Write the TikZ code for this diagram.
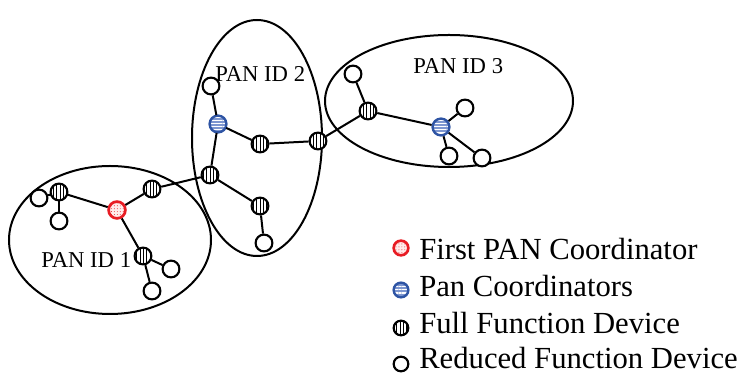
\documentclass[tikz,border=0pt]{standalone}
\usepackage{fontspec}
\setmainfont{Liberation Serif}
\usetikzlibrary{patterns.meta}
\definecolor{coordred}{RGB}{232,28,36}
\definecolor{coordblue}{RGB}{46,84,164}
\definecolor{lightblue}{RGB}{125,150,208}
\tikzset{
  dev/.style={circle, draw, line width=1.6pt, inner sep=0pt, minimum size=12.6pt},
  rfd/.style={dev, fill=white},
  ffd/.style={dev, preaction={fill=white},
    pattern={Lines[angle=90, distance=2.5pt, line width=0.75pt]}},
  pancoord/.style={dev, draw=coordblue, line width=1.8pt, preaction={fill=lightblue},
    pattern={Lines[angle=0, distance=2.4pt, line width=0.9pt]}, pattern color=white},
  firstcoord/.style={dev, draw=coordred, line width=2pt, preaction={fill=red!8},
    pattern={Dots[distance=2.2pt, radius=0.35pt]}, pattern color=coordred},
  small/.style={minimum size=11pt},
  link/.style={line width=1.5pt},
  region/.style={line width=1.5pt},
  panlabel/.style={anchor=base west, inner sep=0pt, font=\fontsize{17}{20}\selectfont},
  legendtext/.style={anchor=base west, inner sep=0pt, font=\fontsize{23}{26}\selectfont}
}
\begin{document}
\begin{tikzpicture}[x=0.75pt,y=-0.75pt]
\useasboundingbox (0,0) rectangle (744,373);

% network regions
\draw[region] (110,240) ellipse [x radius=101*0.75pt, y radius=74*0.75pt];
\draw[region] (257,138) ellipse [x radius=65*0.75pt, y radius=118*0.75pt];
\draw[region] (449,101) ellipse [x radius=124*0.75pt, y radius=66*0.75pt];

% region labels
\node[panlabel] (l1) at (41,268) {PAN ID 1};
\node[panlabel] (l2) at (215,82) {PAN ID 2};
\node[panlabel] (l3) at (413,74) {PAN ID 3};

% devices of PAN 1
\node[rfd] (a1) at (39,198) {};
\node[ffd] (a2) at (59,192) {};
\node[rfd] (a3) at (59,221) {};
\node[firstcoord] (c1) at (117,210) {};
\node[ffd] (a4) at (152,189) {};
\node[ffd] (a5) at (143,256) {};
\node[rfd] (a6) at (171,269) {};
\node[rfd] (a7) at (152,291) {};

% devices of PAN 2
\node[ffd] (b1) at (210,175) {};
\node[pancoord] (b2) at (218,124) {};
\node[rfd] (b3) at (211,86) {};
\node[ffd] (b4) at (260,144) {};
\node[ffd] (b5) at (318,141) {};
\node[ffd] (b6) at (260,206) {};
\node[rfd] (b7) at (264,243) {};

% devices of PAN 3
\node[ffd] (d2) at (368,111) {};
\node[rfd] (d3) at (353,74) {};
\node[pancoord] (d4) at (441,127) {};
\node[rfd] (d5) at (465,108) {};
\node[rfd] (d6) at (449,156) {};
\node[rfd] (d7) at (482,158) {};

% links
\draw[link] (a1) -- (a2);
\draw[link] (a2) -- (a3);
\draw[link] (a2) -- (c1);
\draw[link] (c1) -- (a4);
\draw[link] (a4) -- (b1);
\draw[link] (c1) -- (a5);
\draw[link] (a5) -- (a6);
\draw[link] (a5) -- (a7);
\draw[link] (b1) -- (b2);
\draw[link] (b2) -- (b3);
\draw[link] (b2) -- (b4);
\draw[link] (b4) -- (b5);
\draw[link] (b1) -- (b6);
\draw[link] (b6) -- (b7);
\draw[link] (b5) -- (d2);
\draw[link] (d2) -- (d3);
\draw[link] (d2) -- (d4);
\draw[link] (d4) -- (d5);
\draw[link] (d4) -- (d6);
\draw[link] (d4) -- (d7);

% legend
\node[firstcoord, small] (k1) at (401,248) {};
\node[pancoord, small] (k2) at (401,290) {};
\node[ffd, small] (k3) at (401,328) {};
\node[rfd, small] (k4) at (401,364) {};
\node[legendtext] (t1) at (419,260) {First PAN Coordinator};
\node[legendtext] (t2) at (419,297) {Pan Coordinators};
\node[legendtext] (t3) at (419,334) {Full Function Device};
\node[legendtext] (t4) at (419,369) {Reduced Function Device};
\end{tikzpicture}
\end{document}
